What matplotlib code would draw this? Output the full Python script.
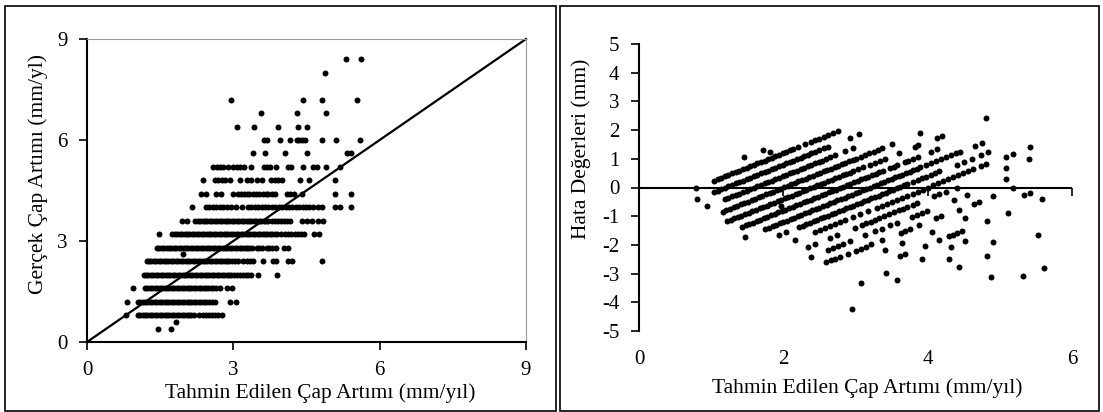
import numpy as np
import matplotlib
matplotlib.use("Agg")
import matplotlib.pyplot as plt
from matplotlib.patches import Rectangle

# Gerçek çap artımı seviyeleri (mm/yıl) ve her seviyedeki tahmin değerleri
levels = [0.4, 0.6, 0.8, 1.2, 1.6, 2.0, 2.4, 2.6, 2.8, 3.2, 3.6, 4.0,
          4.4, 4.8, 5.2, 5.6, 6.0, 6.4, 6.8, 7.2, 8.0, 8.4]

pred_0_4 = [1.46, 1.72]
pred_0_6 = [1.82]
pred_0_8 = [0.79, 1.04, 1.09, 1.14, 1.19, 1.24, 1.29, 1.34, 1.39, 1.44, 1.49,
            1.54, 1.59, 1.64, 1.69, 1.74, 1.79, 1.84, 1.89, 1.94, 1.99, 2.04,
            2.09, 2.14, 2.20, 2.30, 2.38, 2.44, 2.50, 2.56, 2.62, 2.69, 2.76]
pred_1_2 = [0.81, 1.04, 1.09, 1.14, 1.19, 1.24, 1.29, 1.34, 1.39, 1.44, 1.49,
            1.54, 1.59, 1.64, 1.69, 1.74, 1.79, 1.84, 1.89, 1.94, 1.99, 2.04,
            2.09, 2.14, 2.19, 2.24, 2.29, 2.34, 2.39, 2.44, 2.50, 2.57, 2.62,
            2.93, 3.05]
pred_1_6 = [0.94, 1.19, 1.24, 1.29, 1.34, 1.39, 1.44, 1.49, 1.54, 1.59, 1.64,
            1.69, 1.74, 1.79, 1.84, 1.89, 1.94, 1.99, 2.04, 2.09, 2.14, 2.19,
            2.24, 2.29, 2.34, 2.39, 2.44, 2.49, 2.54, 2.59, 2.65, 2.72, 2.86,
            2.97]
pred_2_0 = [1.16, 1.21, 1.26, 1.31, 1.36, 1.41, 1.46, 1.51, 1.56, 1.61, 1.66,
            1.71, 1.76, 1.81, 1.86, 1.91, 1.96, 2.01, 2.06, 2.11, 2.16, 2.21,
            2.26, 2.31, 2.36, 2.41, 2.46, 2.51, 2.56, 2.61, 2.66, 2.71, 2.76,
            2.81, 2.86, 2.91, 2.96, 3.01, 3.07, 3.13, 3.19, 3.25, 3.31, 3.37,
            3.50, 3.89]
pred_2_4 = [1.22, 1.27, 1.32, 1.37, 1.42, 1.47, 1.52, 1.57, 1.62, 1.67, 1.72,
            1.77, 1.82, 1.87, 1.92, 1.97, 2.02, 2.07, 2.12, 2.17, 2.22, 2.27,
            2.32, 2.37, 2.42, 2.47, 2.52, 2.57, 2.62, 2.67, 2.72, 2.77, 2.82,
            2.87, 2.92, 2.97, 3.03, 3.10, 3.20, 3.27, 3.34, 3.41, 3.60, 3.82,
            3.87, 4.13, 4.20, 4.81]
pred_2_6 = [1.97]
pred_2_8 = [1.43, 1.48, 1.53, 1.58, 1.63, 1.68, 1.73, 1.78, 1.83, 1.88, 1.93,
            1.98, 2.03, 2.08, 2.13, 2.18, 2.23, 2.28, 2.33, 2.38, 2.43, 2.48,
            2.53, 2.58, 2.63, 2.68, 2.73, 2.78, 2.83, 2.88, 2.93, 2.98, 3.03,
            3.08, 3.13, 3.18, 3.23, 3.28, 3.33, 3.38, 3.48, 3.53, 3.58, 3.68,
            3.73, 3.80, 3.87, 4.04, 4.13]
pred_3_2 = [1.47, 1.75, 1.80, 1.85, 1.90, 1.95, 2.00, 2.05, 2.10, 2.15, 2.20,
            2.25, 2.30, 2.35, 2.40, 2.45, 2.50, 2.55, 2.60, 2.65, 2.70, 2.75,
            2.80, 2.85, 2.90, 2.95, 3.00, 3.05, 3.10, 3.15, 3.20, 3.25, 3.30,
            3.35, 3.40, 3.45, 3.50, 3.55, 3.60, 3.65, 3.70, 3.75, 3.80, 3.85,
            3.90, 3.98, 4.05, 4.12, 4.19, 4.26, 4.33, 4.39, 4.45, 4.66, 4.75]
pred_3_6 = [1.94, 2.04, 2.22, 2.27, 2.32, 2.37, 2.42, 2.47, 2.52, 2.57, 2.62,
            2.67, 2.72, 2.77, 2.82, 2.87, 2.92, 2.97, 3.02, 3.07, 3.12, 3.17,
            3.22, 3.27, 3.32, 3.37, 3.42, 3.47, 3.52, 3.57, 3.62, 3.67, 3.72,
            3.80, 3.86, 3.92, 3.98, 4.04, 4.10, 4.16, 4.40, 4.50, 4.61, 4.74,
            4.84]
pred_4_0 = [2.16, 2.44, 2.51, 2.58, 2.65, 2.72, 2.79, 2.86, 2.96, 3.06, 3.17,
            3.30, 3.37, 3.44, 3.51, 3.58, 3.65, 3.72, 3.79, 3.86, 3.93, 4.00,
            4.07, 4.14, 4.21, 4.28, 4.35, 4.42, 4.49, 4.56, 4.63, 4.74, 4.81,
            5.08, 5.18, 5.42]
pred_4_4 = [2.34, 2.44, 2.65, 2.75, 2.99, 3.09, 3.15, 3.21, 3.27, 3.33, 3.40,
            3.47, 3.53, 3.60, 3.66, 3.72, 3.79, 3.85, 4.09, 4.16, 4.25, 4.40,
            5.08, 5.41]
pred_4_8 = [2.38, 2.62, 2.69, 2.76, 2.83, 2.93, 3.13, 3.27, 3.37, 3.48, 3.58,
            3.78, 3.85, 3.92, 3.99, 4.36, 4.55, 5.09]
pred_5_2 = [2.59, 2.66, 2.72, 2.79, 2.89, 3.00, 3.07, 3.14, 3.22, 3.37, 3.63,
            3.69, 3.75, 3.88, 4.12, 4.19, 4.43, 4.64, 4.71, 4.91, 5.18]
pred_5_6 = [3.41, 3.65, 4.06, 4.52, 5.33, 5.42]
pred_6_0 = [3.62, 3.68, 3.96, 4.16, 4.30, 4.35, 4.41, 4.47, 4.82, 5.11, 5.59]
pred_6_4 = [3.07, 3.42, 3.92, 4.32, 4.52]
pred_6_8 = [3.57, 4.30, 4.91]
pred_7_2 = [2.95, 4.43, 4.82, 5.53]
pred_8_0 = [4.88]
pred_8_4 = [5.32, 5.61]

rows = [pred_0_4, pred_0_6, pred_0_8, pred_1_2, pred_1_6, pred_2_0, pred_2_4,
        pred_2_6, pred_2_8, pred_3_2, pred_3_6, pred_4_0, pred_4_4, pred_4_8,
        pred_5_2, pred_5_6, pred_6_0, pred_6_4, pred_6_8, pred_7_2, pred_8_0,
        pred_8_4]

pred = np.concatenate([np.array(r) for r in rows])
obs = np.concatenate([np.full(len(r), lv) for r, lv in zip(rows, levels)])
hata = pred - obs

plt.rcParams['font.family'] = ['Liberation Serif', 'DejaVu Serif']
plt.rcParams['axes.unicode_minus'] = False

W, H = 1103, 412
fig = plt.figure(figsize=(W / 100, H / 100), dpi=100)

# panel cerceveleri
for x0, x1 in [(5, 556), (560, 1099)]:
    fig.patches.append(Rectangle((x0 / W, 1 / H), (x1 - x0) / W, 405 / H,
                                 transform=fig.transFigure, fill=False,
                                 ec='black', lw=1.2))

MS = 4.3
LBL = 15.5
TCK = 15

# sol grafik
ax1 = fig.add_axes([87 / W, (H - 342) / H, 439 / W, 303 / H])
ax1.plot(pred, obs, 'o', color='black', ms=MS, mew=0, ls='none')
ax1.plot([0, 9], [0, 9], color='black', lw=1.6, clip_on=False)
ax1.set_xlim(0, 9)
ax1.set_ylim(0, 9)
ax1.set_xticks([0, 3, 6, 9])
ax1.set_yticks([0, 3, 6, 9])
ax1.tick_params(direction='out', length=6, width=1.2, labelsize=TCK, pad=8)
for s in ['left', 'bottom']:
    ax1.spines[s].set_linewidth(1.5)
for s in ['top', 'right']:
    ax1.spines[s].set_color('#9a9a9a')
    ax1.spines[s].set_linewidth(0.8)
ax1.set_xlabel('Tahmin Edilen Çap Artımı (mm/yıl)', fontsize=LBL)
ax1.xaxis.label.set_va('center')
ax1.xaxis.set_label_coords((320 - 87) / 439, (342 - 393) / 303)
ax1.set_ylabel('Gerçek Çap Artımı (mm/yl)', fontsize=LBL)
ax1.yaxis.label.set_va('center')
ax1.yaxis.set_label_coords((38 - 87) / 439, (342 - 174) / 303)

# sag grafik
ax2 = fig.add_axes([639 / W, (H - 331) / H, 433 / W, 287 / H])
ax2.plot(pred, hata, 'o', color='black', ms=MS, mew=0, ls='none')
ax2.axhline(0, color='black', lw=1.5)
ax2.plot([2, 4, 6], [0, 0, 0], ls='none', marker=3, ms=6, mew=1.2,
         color='black', clip_on=False)
ax2.set_xlim(0, 6)
ax2.set_ylim(-5, 5)
ax2.set_xticks([0, 2, 4, 6])
ax2.set_yticks(range(-5, 6))
ax2.tick_params(axis='y', direction='out', length=6, width=1.2,
                labelsize=TCK, pad=8)
ax2.tick_params(axis='x', length=0, labelsize=TCK, pad=14)
for s in ['top', 'right', 'bottom']:
    ax2.spines[s].set_visible(False)
ax2.spines['left'].set_linewidth(1.5)
ax2.set_xlabel('Tahmin Edilen Çap Artımı (mm/yıl)', fontsize=LBL)
ax2.xaxis.label.set_va('center')
ax2.xaxis.set_label_coords((867 - 639) / 433, (331 - 388) / 287)
ax2.set_ylabel('Hata Değerleri (mm)', fontsize=LBL)
ax2.yaxis.label.set_va('center')
ax2.yaxis.set_label_coords((581 - 639) / 433, (331 - 149) / 287)

fig.savefig('out.png', dpi=100)
